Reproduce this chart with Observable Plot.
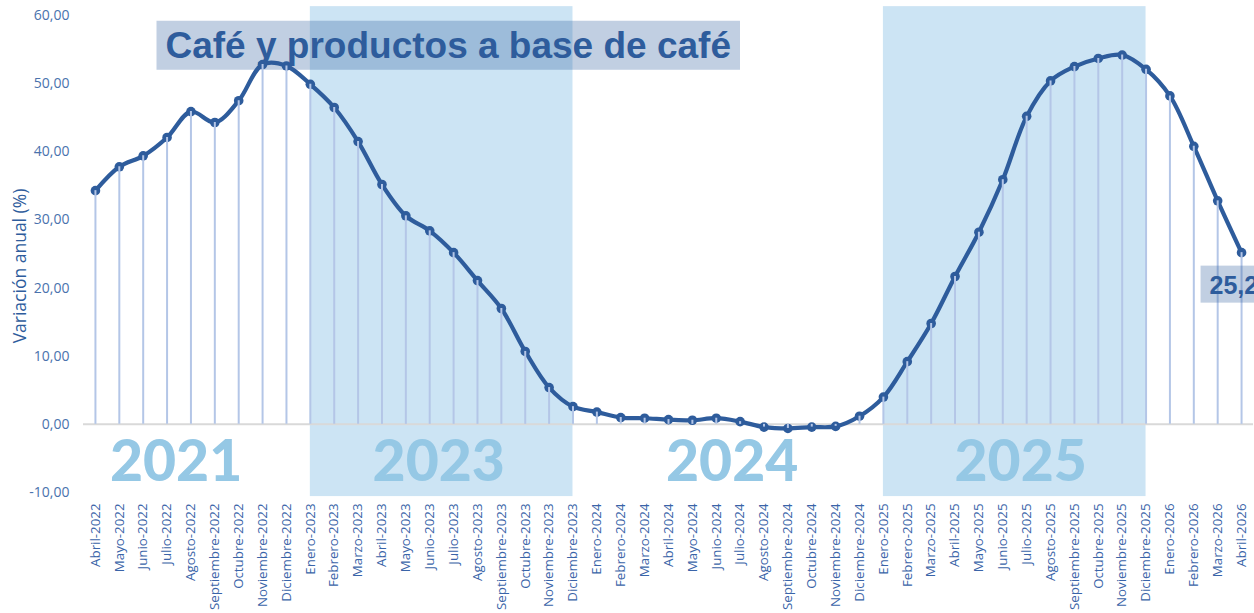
<!DOCTYPE html>
<html>
<head>
<meta charset="utf-8">
<script src="https://cdn.jsdelivr.net/npm/d3@7"></script>
<script src="https://cdn.jsdelivr.net/npm/@observablehq/plot@0.6"></script>
<style>
  html, body { margin: 0; padding: 0; background: #fff; }
  #chart svg { display: block; overflow: hidden; }
</style>
</head>
<body>
<div id="chart"></div>
<script>
const months = [
  "Abril-2022","Mayo-2022","Junio-2022","Julio-2022","Agosto-2022","Septiembre-2022","Octubre-2022","Noviembre-2022","Diciembre-2022",
  "Enero-2023","Febrero-2023","Marzo-2023","Abril-2023","Mayo-2023","Junio-2023","Julio-2023","Agosto-2023","Septiembre-2023","Octubre-2023","Noviembre-2023","Diciembre-2023",
  "Enero-2024","Febrero-2024","Marzo-2024","Abril-2024","Mayo-2024","Junio-2024","Julio-2024","Agosto-2024","Septiembre-2024","Octubre-2024","Noviembre-2024","Diciembre-2024",
  "Enero-2025","Febrero-2025","Marzo-2025","Abril-2025","Mayo-2025","Junio-2025","Julio-2025","Agosto-2025","Septiembre-2025","Octubre-2025","Noviembre-2025","Diciembre-2025",
  "Enero-2026","Febrero-2026","Marzo-2026","Abril-2026"
];
const values = [
  34.3, 37.8, 39.4, 42.1, 45.9, 44.3, 47.5, 52.8, 52.6,
  49.9, 46.5, 41.5, 35.2, 30.6, 28.4, 25.2, 21.1, 17.0, 10.7, 5.4, 2.6,
  1.8, 1.0, 0.9, 0.7, 0.6, 0.9, 0.4, -0.4, -0.6, -0.4, -0.3, 1.2,
  4.0, 9.2, 14.8, 21.7, 28.2, 35.9, 45.2, 50.4, 52.5, 53.7, 54.2, 52.1,
  48.2, 40.8, 32.8, 25.2
];
const bandStarts = ["Enero-2023", "Enero-2025"];
const bandEnds = ["Diciembre-2023", "Diciembre-2025"];
const yearLabels = ["2021", "2023", "2024", "2025"];
const yearAnchors = ["Julio-2022", "Junio-2023", "Julio-2024", "Julio-2025"];
const yearShift = [9, 9, -8, -6];
const yTicks = [-10, 0, 10, 20, 30, 40, 50, 60];
const title = "Café y productos a base de café";
const yLabel = "Variación anual (%)";
const lastLabel = "25,2";

const data = months.map((m, i) => ({month: m, value: values[i]}));
const bands = bandStarts.map((s, i) => ({x1: s, x2: bandEnds[i]}));
const years = yearLabels.map((t, i) => ({text: t, month: yearAnchors[i], dx: yearShift[i]}));

const loc = d3.formatLocale({decimal: ",", thousands: ".", grouping: [3], currency: ["", "€"], minus: "-"});
const fmt = loc.format(".2f");

const blue = "#2e5c9c";
const chart = Plot.plot({
  width: 1254,
  height: 613,
  marginLeft: 83,
  marginRight: 1,
  marginTop: 15,
  marginBottom: 121,
  style: {background: "#fff"},
  x: {type: "point", domain: months, padding: 0.5},
  y: {domain: [-10, 60]},
  marks: [
    Plot.rect(bands, {x1: "x1", x2: "x2", y1: -10.6, y2: 61.3, fill: "#cce4f4"}),
    ...years.map(d => Plot.text([d], {x: "month", y: -5.7, text: "text", dx: d.dx, fill: "#95c8e5",
      fontSize: 57, fontWeight: 900, fontFamily: "Lato", textAnchor: "middle"})),
    Plot.ruleY([0], {stroke: "#d9d9d9", strokeWidth: 2}),
    Plot.axisY(yTicks, {tickSize: 0, tickPadding: 14, tickFormat: fmt, fill: "#4a72ad",
      fontSize: 14, fontFamily: "Open Sans", label: null}),
    Plot.axisX({tickSize: 0, tickRotate: -90, tickPadding: 11, fill: "#3a64a8", fontSize: 13.3,
      fontFamily: "Open Sans", label: null}),
    Plot.text([yLabel], {frameAnchor: "left", dx: -63, dy: 12, rotate: -90, fill: blue, fontSize: 17.5,
      fontFamily: "Open Sans", textAnchor: "middle"}),
    Plot.text([title], {frameAnchor: "top-left", dx: 82, dy: 16, fill: blue, fontSize: 37,
      fontWeight: "bold", fontFamily: "Liberation Sans", textAnchor: "start", className: "boxed-title"}),
    Plot.line(data, {x: "month", y: "value", stroke: blue, strokeWidth: 4.2, curve: "catmull-rom"}),
    Plot.dot(data, {x: "month", y: "value", fill: blue, r: 4.8}),
    Plot.ruleX(data, {x: "month", y1: 0, y2: "value", stroke: "#b4c6e7", strokeWidth: 2}),
    Plot.text([data[data.length - 1]], {x: "month", y: "value", text: () => lastLabel, dx: -32, dy: 33,
      fill: blue, fontSize: 25, fontWeight: "bold", fontFamily: "Liberation Sans", textAnchor: "start", className: "boxed-last"})
  ]
});
document.getElementById("chart").append(chart);

// Semi-transparent boxes behind the title and the last-value label, sized from the text itself
function boxBehind(cls, padX, padTop, padBottom, extendRight) {
  const g = chart.querySelector("g." + cls) || chart.querySelector("." + cls);
  if (!g) return;
  const t = g.querySelector("text");
  const bb = t.getBBox();
  const rect = document.createElementNS("http://www.w3.org/2000/svg", "rect");
  rect.setAttribute("x", bb.x - padX);
  rect.setAttribute("y", bb.y - padTop);
  rect.setAttribute("width", bb.width + 2 * padX + (extendRight || 0));
  rect.setAttribute("height", bb.height + padTop + padBottom);
  rect.setAttribute("fill", "rgba(50,95,160,0.3)");
  const tr = t.getAttribute("transform");
  if (tr) rect.setAttribute("transform", tr);
  t.parentNode.insertBefore(rect, t);
}
boxBehind("boxed-title", 9, 4, 4);
boxBehind("boxed-last", 9, 5, 4, 30);
</script>
</body>
</html>
